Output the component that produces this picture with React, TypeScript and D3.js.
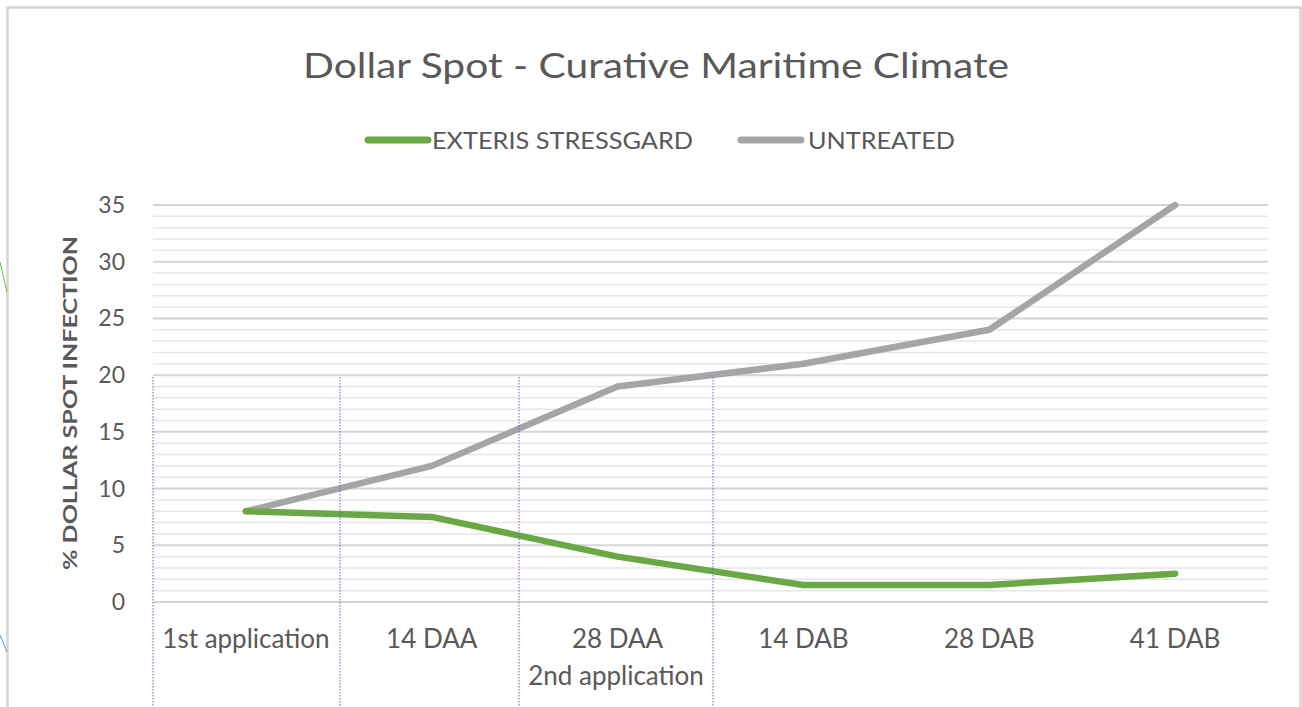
import { useRef, useEffect } from "react";
import * as d3 from "d3";

const categories = ["1st application", "14 DAA", "28 DAA", "14 DAB", "28 DAB", "41 DAB"];
const stressgard = [8, 7.5, 4, 1.5, 1.5, 2.5];
const untreated = [8, 12, 19, 21, 24, 35];
const yTicks = [0, 5, 10, 15, 20, 25, 30, 35];
const seriesNames = ["EXTERIS STRESSGARD", "UNTREATED"];
// hand-drawn dotted separators sit on these category boundaries
const markerBounds = [0, 1, 2, 3];

const W = 1302;
const H = 707;
const FONT = "Lato, 'Open Sans', sans-serif";
const TEXT = "#595959";

const App = () => {
  const ref = useRef<SVGSVGElement | null>(null);

  useEffect(() => {
    if (!ref.current) return;
    const svg = d3.select(ref.current);
    svg.selectAll("*").remove();

    const left = 153, right = 1268, top = 205, bottom = 602;

    const x = d3.scaleBand<string>().domain(categories).range([left, right]);
    const y = d3.scaleLinear().domain([0, 35]).range([bottom, top]);
    const cx = (c: string) => (x(c) ?? 0) + x.bandwidth() / 2;

    svg.append("rect").attr("width", W).attr("height", H).attr("fill", "#fff");

    // frame
    svg.append("path")
      .attr("d", `M7.5,${H} V7.5 H1300.5 V${H}`)
      .attr("fill", "none")
      .attr("stroke", "#d4d4d4")
      .attr("stroke-width", 2.5);

    // stray shapes at the left edge
    svg.append("line").attr("x1", 0).attr("y1", 262).attr("x2", 7).attr("y2", 292)
      .attr("stroke", "#6cbf3f").attr("stroke-width", 1);
    svg.append("line").attr("x1", 0).attr("y1", 635).attr("x2", 7).attr("y2", 652)
      .attr("stroke", "#5b9bd5").attr("stroke-width", 1);

    // title
    svg.append("text")
      .attr("x", 656).attr("y", 78)
      .attr("text-anchor", "middle")
      .attr("font-family", FONT)
      .attr("font-size", 35)
      .attr("fill", TEXT)
      .attr("textLength", 706)
      .attr("lengthAdjust", "spacingAndGlyphs")
      .text("Dollar Spot - Curative Maritime Climate");

    // legend
    const legend = [
      { name: seriesNames[0], color: "#6aa845", x0: 365, tx: 432, tw: 261 },
      { name: seriesNames[1], color: "#a5a5a5", x0: 738, tx: 808, tw: 147 },
    ];
    legend.forEach((l) => {
      svg.append("line")
        .attr("x1", l.x0 + 3).attr("x2", l.x0 + 63)
        .attr("y1", 140).attr("y2", 140)
        .attr("stroke", l.color).attr("stroke-width", 7).attr("stroke-linecap", "round");
      svg.append("text")
        .attr("x", l.tx).attr("y", 149)
        .attr("font-family", FONT).attr("font-size", 24).attr("fill", TEXT)
        .attr("textLength", l.tw).attr("lengthAdjust", "spacingAndGlyphs")
        .text(l.name);
    });

    // gridlines: minor every 1, major every 5
    const minor = d3.range(0, 36).filter((v) => v % 5 !== 0);
    svg.append("g").selectAll("line").data(minor).join("line")
      .attr("x1", left).attr("x2", right)
      .attr("y1", (d) => y(d)).attr("y2", (d) => y(d))
      .attr("stroke", "#e6e6e6").attr("stroke-width", 1.5);
    svg.append("g").selectAll("line").data(yTicks).join("line")
      .attr("x1", left).attr("x2", right)
      .attr("y1", (d) => y(d)).attr("y2", (d) => y(d))
      .attr("stroke", "#d4d4d4").attr("stroke-width", 2);

    // y tick labels
    svg.append("g").selectAll("text").data(yTicks).join("text")
      .attr("x", 125).attr("y", (d) => y(d) + 8)
      .attr("text-anchor", "end")
      .attr("font-family", FONT).attr("font-size", 23).attr("fill", TEXT)
      .text((d) => d);

    // y axis title
    svg.append("text")
      .attr("transform", `translate(77,${403}) rotate(-90)`)
      .attr("text-anchor", "middle")
      .attr("font-family", FONT).attr("font-size", 19).attr("font-weight", "bold")
      .attr("fill", TEXT)
      .attr("textLength", 334).attr("lengthAdjust", "spacingAndGlyphs")
      .text("% DOLLAR SPOT INFECTION");

    // x labels
    svg.append("g").selectAll("text").data(categories).join("text")
      .attr("x", (d) => cx(d)).attr("y", 648)
      .attr("text-anchor", "middle")
      .attr("font-family", FONT).attr("font-size", 26).attr("fill", TEXT)
      .text((d) => d);
    svg.append("text")
      .attr("x", 616).attr("y", 685)
      .attr("text-anchor", "middle")
      .attr("font-family", FONT).attr("font-size", 26).attr("fill", TEXT)
      .text("2nd application");

    // series lines
    const line = d3.line<number>()
      .x((_, i) => cx(categories[i]))
      .y((d) => y(d));
    [
      { data: untreated, color: "#a5a5a5" },
      { data: stressgard, color: "#6aa845" },
    ].forEach((s) => {
      svg.append("path")
        .attr("d", line(s.data) ?? "")
        .attr("fill", "none")
        .attr("stroke", s.color)
        .attr("stroke-width", 6.5)
        .attr("stroke-linejoin", "round")
        .attr("stroke-linecap", "round");
    });

    // dotted blue separators
    const sepX = [153, 340, 519, 713];
    svg.append("g").selectAll("line").data(markerBounds).join("line")
      .attr("x1", (d) => sepX[d]).attr("x2", (d) => sepX[d])
      .attr("y1", 377).attr("y2", H)
      .attr("stroke", "#4472c4").attr("stroke-width", 1)
      .attr("stroke-dasharray", "1.5,1.5");
  }, []);

  return (
    <div style={{ position: "absolute", left: 0, top: 0 }}>
      <svg ref={ref} width={W} height={H} style={{ display: "block" }} />
    </div>
  );
};

export default App;
